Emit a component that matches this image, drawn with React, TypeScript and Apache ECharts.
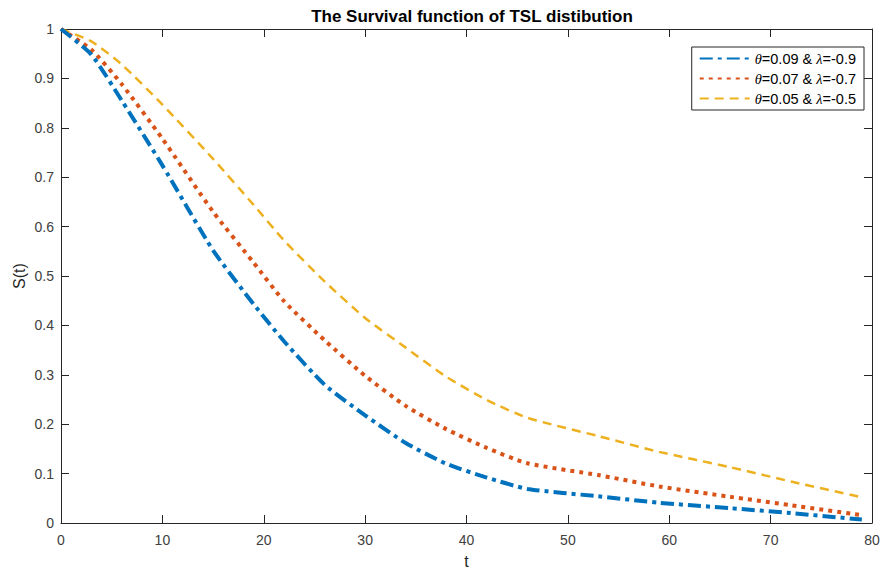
import React, { useEffect, useRef } from "react";
import * as echarts from "echarts";

const tValues = [0, 3, 6, 10, 15, 19, 22, 26, 30, 34, 38, 42, 46, 53, 59, 66, 72, 79];
const series1 = [1, 0.948, 0.855, 0.724, 0.552, 0.443, 0.368, 0.28, 0.218, 0.162, 0.12, 0.092, 0.069, 0.054, 0.041, 0.03, 0.02, 0.007];
const series2 = [1, 0.958, 0.888, 0.778, 0.63, 0.527, 0.449, 0.37, 0.298, 0.237, 0.19, 0.152, 0.121, 0.097, 0.074, 0.053, 0.036, 0.016];
const series3 = [1, 0.975, 0.928, 0.847, 0.737, 0.644, 0.572, 0.489, 0.415, 0.355, 0.296, 0.249, 0.213, 0.176, 0.144, 0.113, 0.084, 0.052];
const seriesNames = ["θ=0.09 & λ=-0.9", "θ=0.07 & λ=-0.7", "θ=0.05 & λ=-0.5"];
const xTicks = [0, 10, 20, 30, 40, 50, 60, 70, 80];
const yTicks = [0, 0.1, 0.2, 0.3, 0.4, 0.5, 0.6, 0.7, 0.8, 0.9, 1];

const FONT = "'Liberation Sans', Arial, Helvetica, sans-serif";
const AX = "#262626";
const LBL = "#404040";

export default function App() {
  const ref = useRef<HTMLDivElement>(null);
  useEffect(() => {
    if (!ref.current) return;
    const chart = echarts.init(ref.current, undefined, { renderer: "svg" });
    const mk = (vals: number[]) => tValues.map((t, i) => [t, vals[i]]);
    const axisCommon = {
      axisLine: { show: true, onZero: false, lineStyle: { color: AX, width: 1 } },
      axisTick: { show: true, inside: true, length: 8, lineStyle: { color: AX } },
      splitLine: { show: false },
    };
    chart.setOption({
      animation: false,
      backgroundColor: "#ffffff",
      title: {
        text: "The Survival function of TSL distibution",
        left: 467,
        textAlign: "center",
        top: 3,
        textStyle: { fontFamily: FONT, fontSize: 17, fontWeight: "bold", color: "#000" },
      },
      legend: {
        orient: "vertical",
        right: 16,
        top: 47,
        itemWidth: 50,
        itemHeight: 14,
        itemGap: 5,
        padding: [4, 8, 4, 7],
        borderColor: AX,
        borderWidth: 1,
        backgroundColor: "#ffffff",
        itemStyle: { opacity: 0, borderWidth: 0 },
        data: seriesNames,
        formatter: (name: string) => {
          const m = name.match(/θ=([\d.]+) & λ=([-\d.]+)/);
          if (!m) return name;
          return `{g|θ}=${m[1]} & {g|λ}=${m[2]}`;
        },
        textStyle: {
          fontFamily: FONT,
          fontSize: 14.5,
          color: "#000",
          rich: {
            g: { fontFamily: "'Liberation Serif', 'DejaVu Serif', serif", fontStyle: "italic", fontSize: 14.5, color: "#000" },
          },
        },
      },
      grid: { left: 61, right: 8, top: 29, bottom: 48, containLabel: false, outerBoundsMode: "none" },
      xAxis: [
        {
          type: "value",
          min: xTicks[0],
          max: xTicks[xTicks.length - 1],
          interval: 10,
          position: "bottom",
          name: "t",
          nameLocation: "middle",
          nameGap: 30,
          nameMoveOverlap: false,
          nameTextStyle: { fontFamily: FONT, fontSize: 16, color: AX },
          axisLabel: { fontFamily: FONT, fontSize: 14, color: LBL, margin: 10 },
          ...axisCommon,
        },
        {
          type: "value",
          min: xTicks[0],
          max: xTicks[xTicks.length - 1],
          interval: 10,
          position: "top",
          axisLabel: { show: false },
          ...axisCommon,
        },
      ],
      yAxis: [
        {
          type: "value",
          min: yTicks[0],
          max: yTicks[yTicks.length - 1],
          interval: 0.1,
          position: "left",
          name: "S(t)",
          nameLocation: "middle",
          nameGap: 34,
          nameMoveOverlap: false,
          nameTextStyle: { fontFamily: FONT, fontSize: 16, color: AX },
          axisLabel: {
            fontFamily: FONT,
            fontSize: 14,
            color: LBL,
            margin: 7,
            formatter: (v: number) => String(Math.round(v * 10) / 10),
          },
          ...axisCommon,
        },
        {
          type: "value",
          min: yTicks[0],
          max: yTicks[yTicks.length - 1],
          interval: 0.1,
          position: "right",
          axisLabel: { show: false },
          ...axisCommon,
        },
      ],
      series: [
        {
          name: seriesNames[0],
          type: "line",
          data: mk(series1),
          smooth: 0.2,
          showSymbol: false,
          symbol: "none",
          lineStyle: { color: "#0072BD", width: 4, type: [13, 5, 4, 5], cap: "butt" },
          itemStyle: { color: "#0072BD" },
          z: 4,
        },
        {
          name: seriesNames[1],
          type: "line",
          data: mk(series2),
          smooth: 0.2,
          showSymbol: false,
          symbol: "none",
          lineStyle: { color: "#D95319", width: 4, type: [4, 5], cap: "butt" },
          itemStyle: { color: "#D95319" },
          z: 3,
        },
        {
          name: seriesNames[2],
          type: "line",
          data: mk(series3),
          smooth: 0.2,
          showSymbol: false,
          symbol: "none",
          lineStyle: { color: "#EDB120", width: 2.5, type: [9, 6], cap: "butt" },
          itemStyle: { color: "#EDB120" },
          z: 2,
        },
      ],
    });
    return () => chart.dispose();
  }, []);
  return (
    <div style={{ position: "fixed", left: 0, top: 0, width: 880, height: 571, overflow: "hidden" }}>
      <div ref={ref} style={{ width: 880, height: 571 }} />
    </div>
  );
}
